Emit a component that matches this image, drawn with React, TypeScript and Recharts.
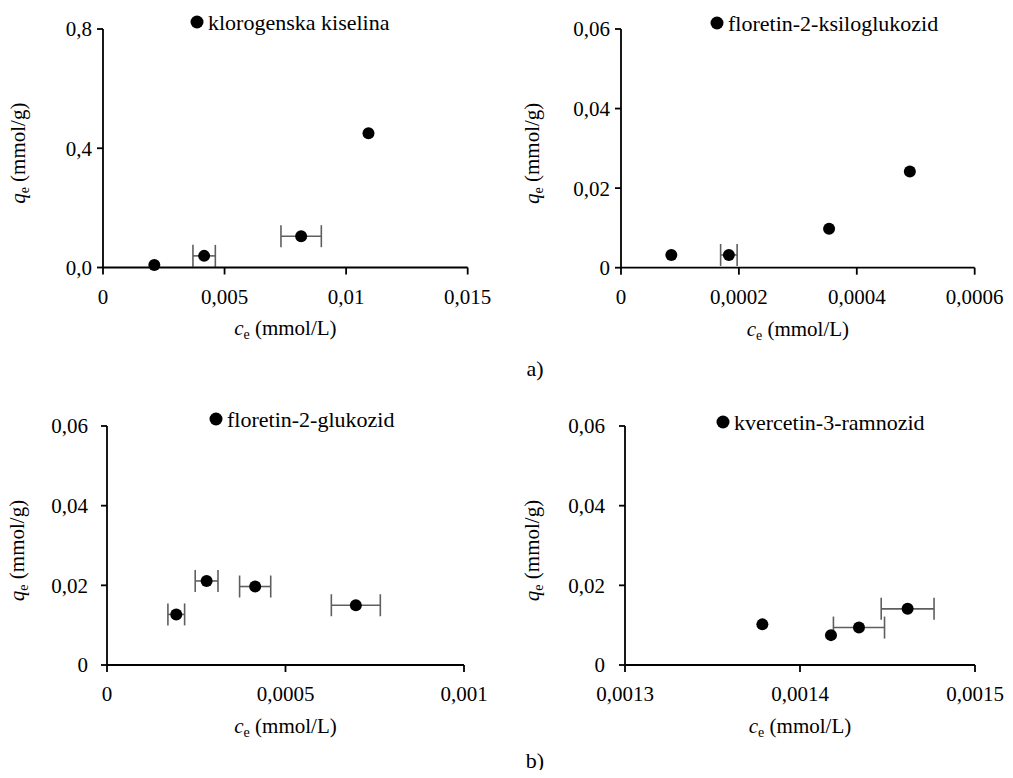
import React from "react";
import {
  ErrorBar,
  Label,
  Legend,
  Scatter,
  ScatterChart,
  XAxis,
  YAxis,
} from "recharts";

const FONT = '"Liberation Serif", "Times New Roman", serif';

// klorogenska kiselina
const x1 = [0.00211, 0.00416, 0.00815, 0.01092];
const y1 = [0.008, 0.039, 0.105, 0.45];
const ex1 = [0, 0.00046, 0.00083, 0];
const xTicks1 = [0, 0.005, 0.01, 0.015];
const xLabels1 = ["0", "0,005", "0,01", "0,015"];
const yTicks1 = [0, 0.4, 0.8];
const yLabels1 = ["0,0", "0,4", "0,8"];

// floretin-2-ksiloglukozid
const x2 = [0.0000854, 0.000183, 0.000353, 0.00049];
const y2 = [0.0032, 0.0032, 0.0098, 0.0242];
const ex2 = [0, 0.000014, 0, 0];
const xTicks2 = [0, 0.0002, 0.0004, 0.0006];
const xLabels2 = ["0", "0,0002", "0,0004", "0,0006"];

// floretin-2-glukozid
const x3 = [0.000194, 0.000279, 0.000415, 0.000697];
const y3 = [0.0127, 0.0211, 0.0197, 0.015];
const ex3 = [0.0000234, 0.0000319, 0.0000436, 0.0000686];
const xTicks3 = [0, 0.0005, 0.001];
const xLabels3 = ["0", "0,0005", "0,001"];

// kvercetin-3-ramnozid
const x4 = [0.0013785, 0.0014177, 0.0014337, 0.0014615];
const y4 = [0.0102, 0.0075, 0.0094, 0.0141];
const ex4 = [0, 0, 0.0000146, 0.0000151];
const xTicks4 = [0.0013, 0.0014, 0.0015];
const xLabels4 = ["0,0013", "0,0014", "0,0015"];

const yTicksSmall = [0, 0.02, 0.04, 0.06];
const yLabelsSmall = ["0", "0,02", "0,04", "0,06"];

const toPoints = (xs: number[], ys: number[], es: number[]) =>
  xs.map((x, i) => ({ x, y: ys[i], ex: es[i] }));

type PanelProps = {
  name: string;
  data: { x: number; y: number; ex: number }[];
  xTicks: number[];
  xLabels: string[];
  yTicks: number[];
  yLabels: string[];
  // plot area in page coordinates
  L: number;
  T: number;
  R: number;
  B: number;
  yTickMargin: number;
  yTitleOff: number;
  legendX: number;
  legendY: number;
};

const PAD_L = 110;
const PAD_T = 29;
const PAD_R = 30;
const PAD_B = 90;
const Y_W = 80;
const X_H = 50;

function Dot(props: any) {
  if (props.cx == null || props.cy == null) return null;
  return <circle cx={props.cx} cy={props.cy} r={6} fill="#000" />;
}

function Panel(p: PanelProps) {
  const pw = p.R - p.L;
  const ph = p.B - p.T;
  const x0 = p.L - PAD_L;
  const y0 = p.T - PAD_T;
  const w = pw + PAD_L + PAD_R;
  const h = ph + PAD_T + PAD_B;
  const axisLine = { stroke: "#000", strokeWidth: 1.8 };
  const tick = { fill: "#000", fontSize: 21, fontFamily: FONT };

  return (
    <div style={{ position: "absolute", left: x0, top: y0 }}>
      <ScatterChart
        width={w}
        height={h}
        margin={{ top: PAD_T, left: PAD_L - Y_W, right: PAD_R, bottom: PAD_B - X_H }}
      >
        <XAxis
          type="number"
          dataKey="x"
          domain={[p.xTicks[0], p.xTicks[p.xTicks.length - 1]]}
          ticks={p.xTicks}
          tickFormatter={(v, i) => p.xLabels[i]}
          height={X_H}
          axisLine={axisLine}
          tickLine={axisLine}
          tickSize={7}
          tickMargin={14.5}
          tick={tick}
          interval={0}
        >
          <Label
            content={() => (
              <text
                x={PAD_L + pw / 2}
                y={PAD_T + ph + 68}
                textAnchor="middle"
                fontSize={21}
                fontFamily={FONT}
                fill="#000"
              >
                <tspan fontStyle="italic">c</tspan>
                <tspan fontSize={14} dy={4}>e</tspan>
                <tspan dy={-4}> (mmol/L)</tspan>
              </text>
            )}
          />
        </XAxis>
        <YAxis
          type="number"
          dataKey="y"
          domain={[p.yTicks[0], p.yTicks[p.yTicks.length - 1]]}
          ticks={p.yTicks}
          tickFormatter={(v, i) => p.yLabels[i]}
          width={Y_W}
          axisLine={axisLine}
          tickLine={axisLine}
          tickSize={6}
          tickMargin={p.yTickMargin}
          tick={tick}
          interval={0}
        >
          <Label
            content={() => {
              const bx = PAD_L - p.yTitleOff;
              const cy = PAD_T + ph / 2 + 5;
              return (
                <text
                  x={bx}
                  y={cy}
                  transform={`rotate(-90 ${bx} ${cy})`}
                  textAnchor="middle"
                  fontSize={21}
                  fontFamily={FONT}
                  fill="#000"
                >
                  <tspan fontStyle="italic">q</tspan>
                  <tspan fontSize={14} dy={4}>e</tspan>
                  <tspan dy={-4}> (mmol/g)</tspan>
                </text>
              );
            }}
          />
        </YAxis>
        <Legend
          layout="horizontal"
          verticalAlign="middle"
          align="center"
          wrapperStyle={{
            left: p.legendX - x0 - 7,
            top: p.legendY - y0 - 12,
            width: 300,
            height: 30,
          }}
          content={() => (
            <svg width={300} height={30} style={{ display: "block" }}>
              <circle cx={7} cy={12} r={6.5} fill="#000" />
              <text x={18} y={20} fontSize={22} fontFamily={FONT} fill="#000">
                {p.name}
              </text>
            </svg>
          )}
        />
        <Scatter
          name={p.name}
          data={p.data}
          fill="#000"
          shape={<Dot />}
          isAnimationActive={false}
        >
          <ErrorBar
            dataKey="ex"
            direction="x"
            width={11}
            stroke="#5f5f5f"
            strokeWidth={1.6}
            isAnimationActive={false}
          />
        </Scatter>
      </ScatterChart>
    </div>
  );
}

export default function App() {
  return (
    <div
      style={{
        position: "relative",
        width: 1013,
        height: 778,
        margin: -8,
        background: "#fff",
        overflow: "hidden",
        fontFamily: FONT,
      }}
    >
      <Panel
        name="klorogenska kiselina"
        data={toPoints(x1, y1, ex1)}
        xTicks={xTicks1}
        xLabels={xLabels1}
        yTicks={yTicks1}
        yLabels={yLabels1}
        L={103}
        T={29}
        R={467.7}
        B={267.5}
        yTickMargin={5}
        yTitleOff={78}
        legendX={197.3}
        legendY={21.7}
      />
      <Panel
        name="floretin-2-ksiloglukozid"
        data={toPoints(x2, y2, ex2)}
        xTicks={xTicks2}
        xLabels={xLabels2}
        yTicks={yTicksSmall}
        yLabels={yLabelsSmall}
        L={621}
        T={29}
        R={974.7}
        B={267.7}
        yTickMargin={5}
        yTitleOff={82}
        legendX={717.3}
        legendY={22.7}
      />
      <Panel
        name="floretin-2-glukozid"
        data={toPoints(x3, y3, ex3)}
        xTicks={xTicks3}
        xLabels={xLabels3}
        yTicks={yTicksSmall}
        yLabels={yLabelsSmall}
        L={106.7}
        T={426}
        R={463.7}
        B={665}
        yTickMargin={13}
        yTitleOff={83}
        legendX={216}
        legendY={419.3}
      />
      <Panel
        name="kvercetin-3-ramnozid"
        data={toPoints(x4, y4, ex4)}
        xTicks={xTicks4}
        xLabels={xLabels4}
        yTicks={yTicksSmall}
        yLabels={yLabelsSmall}
        L={625}
        T={426}
        R={975}
        B={665}
        yTickMargin={14}
        yTitleOff={86}
        legendX={723.3}
        legendY={421.7}
      />
      <svg
        width={1013}
        height={778}
        style={{ position: "absolute", left: 0, top: 0, pointerEvents: "none" }}
      >
        <text x={535} y={376} textAnchor="middle" fontSize={22} fontFamily={FONT} fill="#000">
          a)
        </text>
        <text x={535} y={768} textAnchor="middle" fontSize={22} fontFamily={FONT} fill="#000">
          b)
        </text>
      </svg>
    </div>
  );
}
